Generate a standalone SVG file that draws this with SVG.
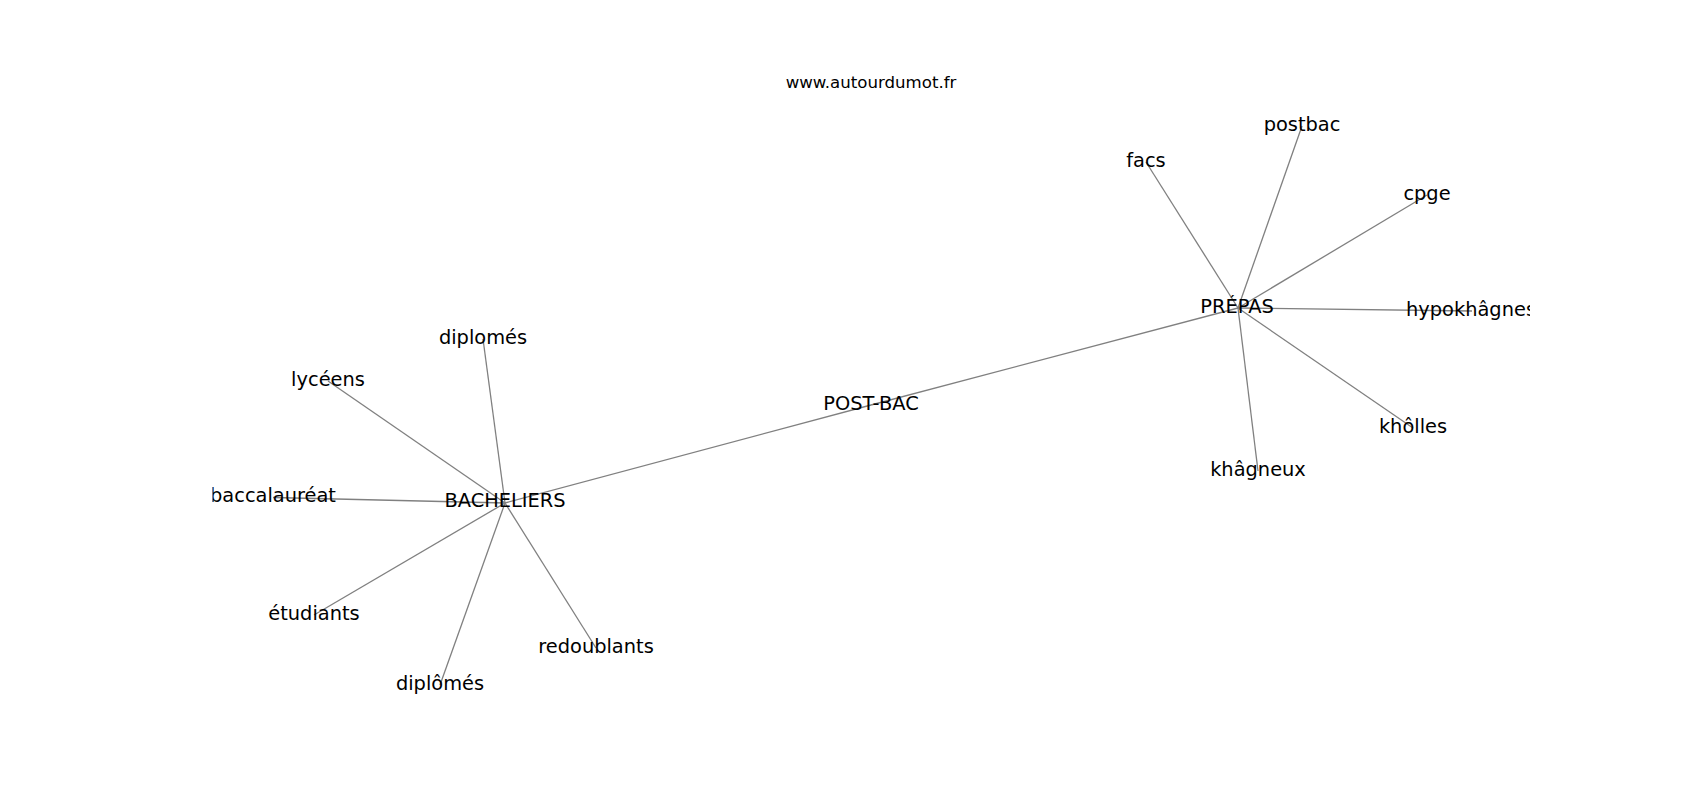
<svg xmlns="http://www.w3.org/2000/svg" width="1700" height="800" viewBox="0 0 1700 800">
<style>
.e{stroke:#808080;stroke-width:1.3;fill:none}
.l{font-family:"DejaVu Sans","Liberation Sans",sans-serif;font-size:19.4px;fill:#000;text-anchor:middle}
.t{font-family:"DejaVu Sans","Liberation Sans",sans-serif;font-size:16.6px;fill:#000;text-anchor:middle}
</style>
<defs>
<clipPath id="ax"><rect x="212.5" y="96" width="1317.5" height="616"/></clipPath>
</defs>
<rect width="1700" height="800" fill="#fff"/>
<text id="title" class="t" x="871" y="88">www.autourdumot.fr</text>
<g clip-path="url(#ax)">
<g id="edges">
<line class="e" x1="505" y1="503" x2="871" y2="405"/>
<line class="e" x1="871" y1="405" x2="1238" y2="308"/>
<line class="e" x1="1238" y1="308" x2="1146" y2="162"/>
<line class="e" x1="1238" y1="308" x2="1302" y2="126"/>
<line class="e" x1="1238" y1="308" x2="1427" y2="195"/>
<line class="e" x1="1238" y1="308" x2="1472" y2="311"/>
<line class="e" x1="1238" y1="308" x2="1413" y2="428"/>
<line class="e" x1="1238" y1="308" x2="1258" y2="471"/>
<line class="e" x1="505" y1="503" x2="483" y2="339"/>
<line class="e" x1="505" y1="503" x2="328" y2="381"/>
<line class="e" x1="505" y1="503" x2="273" y2="497.5"/>
<line class="e" x1="505" y1="503" x2="314" y2="615"/>
<line class="e" x1="505" y1="503" x2="440" y2="685"/>
<line class="e" x1="505" y1="503" x2="596" y2="648"/>
</g>
<g id="n-bacheliers"><text class="l" x="505" y="507">BACHELIERS</text></g>
<g id="n-postbac-hub"><text class="l" x="871" y="410">POST-BAC</text></g>
<g id="n-prepas"><text class="l" x="1237" y="313">PRÉPAS</text></g>
<g id="n-facs"><text class="l" x="1146" y="167">facs</text></g>
<g id="n-postbac"><text class="l" x="1302" y="131">postbac</text></g>
<g id="n-cpge"><text class="l" x="1427" y="200">cpge</text></g>
<g id="n-hypokhagnes"><text class="l" x="1471" y="316">hypokhâgnes</text></g>
<g id="n-kholles"><text class="l" x="1413" y="433">khôlles</text></g>
<g id="n-khagneux"><text class="l" x="1258" y="476">khâgneux</text></g>
<g id="n-diplomes"><text class="l" x="483" y="344">diplomés</text></g>
<g id="n-lyceens"><text class="l" x="328" y="386">lycéens</text></g>
<g id="n-baccalaureat"><text class="l" x="273" y="502">baccalauréat</text></g>
<g id="n-etudiants"><text class="l" x="314" y="620">étudiants</text></g>
<g id="n-diplomes2"><text class="l" x="440" y="690">diplômés</text></g>
<g id="n-redoublants"><text class="l" x="596" y="653">redoublants</text></g>
</g>
</svg>
